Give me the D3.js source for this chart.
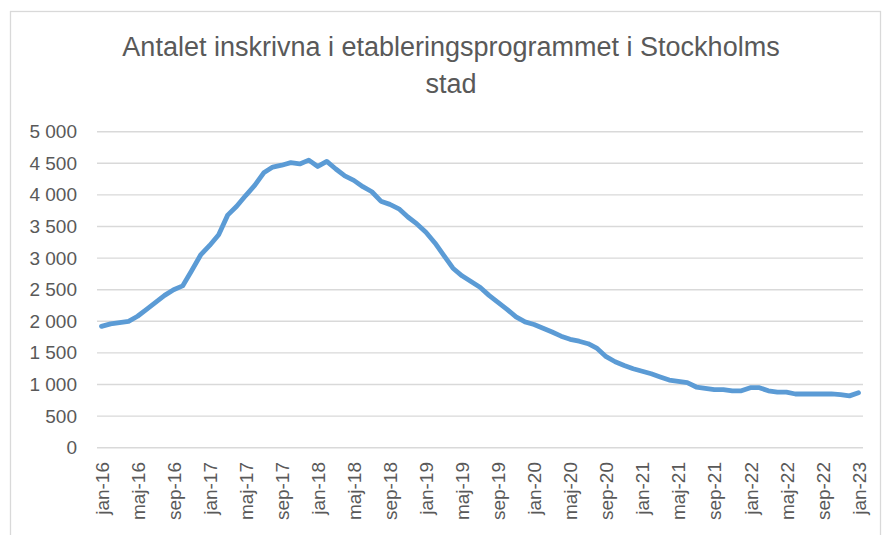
<!DOCTYPE html>
<html>
<head>
<meta charset="utf-8">
<script src="https://cdn.jsdelivr.net/npm/d3@7"></script>
<style>
  html, body { margin: 0; padding: 0; background: #fff; }
  svg { display: block; }
</style>
</head>
<body>
<svg id="chart" width="882" height="535"></svg>
<script>
const titleLines = ["Antalet inskrivna i etableringsprogrammet i Stockholms", "stad"];
const monthNames = ["jan","feb","mar","apr","maj","jun","jul","aug","sep","okt","nov","dec"];
const years = [16,17,18,19,20,21,22,23];
const categories = [];
years.forEach(y => monthNames.forEach(m => { if (categories.length < 85) categories.push(m + "-" + y); }));
const values = [
  1920, 1960, 1980, 2000, 2080, 2190, 2300, 2410, 2500, 2560, 2800, 3050,
  3200, 3370, 3680, 3820, 3990, 4150, 4350, 4440, 4470, 4510, 4490, 4550,
  4450, 4530, 4410, 4300, 4230, 4130, 4050, 3900, 3850, 3780, 3650, 3540,
  3410, 3240, 3040, 2840, 2720, 2630, 2540, 2410, 2300, 2190, 2070, 1990,
  1950, 1890, 1830, 1765, 1715, 1685, 1645, 1570, 1440, 1360, 1300, 1250,
  1210, 1170, 1120, 1070, 1050, 1030, 960, 940, 920, 920, 900, 900,
  950, 950, 900, 880, 880, 850, 850, 850, 850, 850, 840, 820,
  870
];
const yTicks = [0, 500, 1000, 1500, 2000, 2500, 3000, 3500, 4000, 4500, 5000];

const svg = d3.select("#chart");
const textColor = "#595959";
const gridColor = "#d9d9d9";
const font = "'Liberation Sans', Arial, sans-serif";

// outer border
svg.append("rect")
  .attr("x", 10.5).attr("y", 11.5)
  .attr("width", 870).attr("height", 540)
  .attr("fill", "none").attr("stroke", gridColor).attr("stroke-width", 1.3);

const x = d3.scalePoint().domain(categories).range([97, 863]).padding(0.5);
const y = d3.scaleLinear().domain([0, 5000]).range([447.7, 131.7]);

const locale = d3.formatLocale({decimal: ",", thousands: "\u00a0", grouping: [3], currency: ["", ""]});
const fmt = locale.format(",d");

// gridlines
svg.append("g").selectAll("line").data(yTicks).join("line")
  .attr("x1", 97).attr("x2", 863)
  .attr("y1", d => y(d)).attr("y2", d => y(d))
  .attr("stroke", gridColor).attr("stroke-width", 1.4);

// y axis labels
const yAxis = d3.axisLeft(y).tickValues(yTicks).tickFormat(fmt).tickSize(0).tickPadding(0);
const gy = svg.append("g").attr("transform", "translate(77,0)").call(yAxis);
gy.select(".domain").remove();
gy.selectAll("text")
  .attr("fill", textColor)
  .style("font-family", font)
  .style("font-size", "19px");

// x axis labels
const xAxis = d3.axisBottom(x)
  .tickValues(categories.filter((d, i) => i % 4 === 0))
  .tickSize(0).tickPadding(0);
const gx = svg.append("g").attr("transform", "translate(0,455)").call(xAxis);
gx.select(".domain").remove();
gx.selectAll("text")
  .attr("fill", textColor)
  .style("font-family", font)
  .style("font-size", "19px")
  .attr("text-anchor", "end")
  .attr("transform", "rotate(-90)")
  .attr("x", -7)
  .attr("y", 0)
  .attr("dy", "0.35em");

// line
const line = d3.line().x((d, i) => x(categories[i])).y(d => y(d)).curve(d3.curveLinear);
svg.append("path")
  .datum(values)
  .attr("d", line)
  .attr("fill", "none")
  .attr("stroke", "#5b9bd5")
  .attr("stroke-width", 4.8)
  .attr("stroke-linejoin", "round")
  .attr("stroke-linecap", "round");

// title
const title = svg.append("text")
  .attr("text-anchor", "middle")
  .attr("fill", textColor)
  .style("font-family", font)
  .style("font-size", "27px");
title.selectAll("tspan").data(titleLines).join("tspan")
  .attr("x", 451)
  .attr("y", (d, i) => 56 + i * 37)
  .text(d => d);
</script>
</body>
</html>
